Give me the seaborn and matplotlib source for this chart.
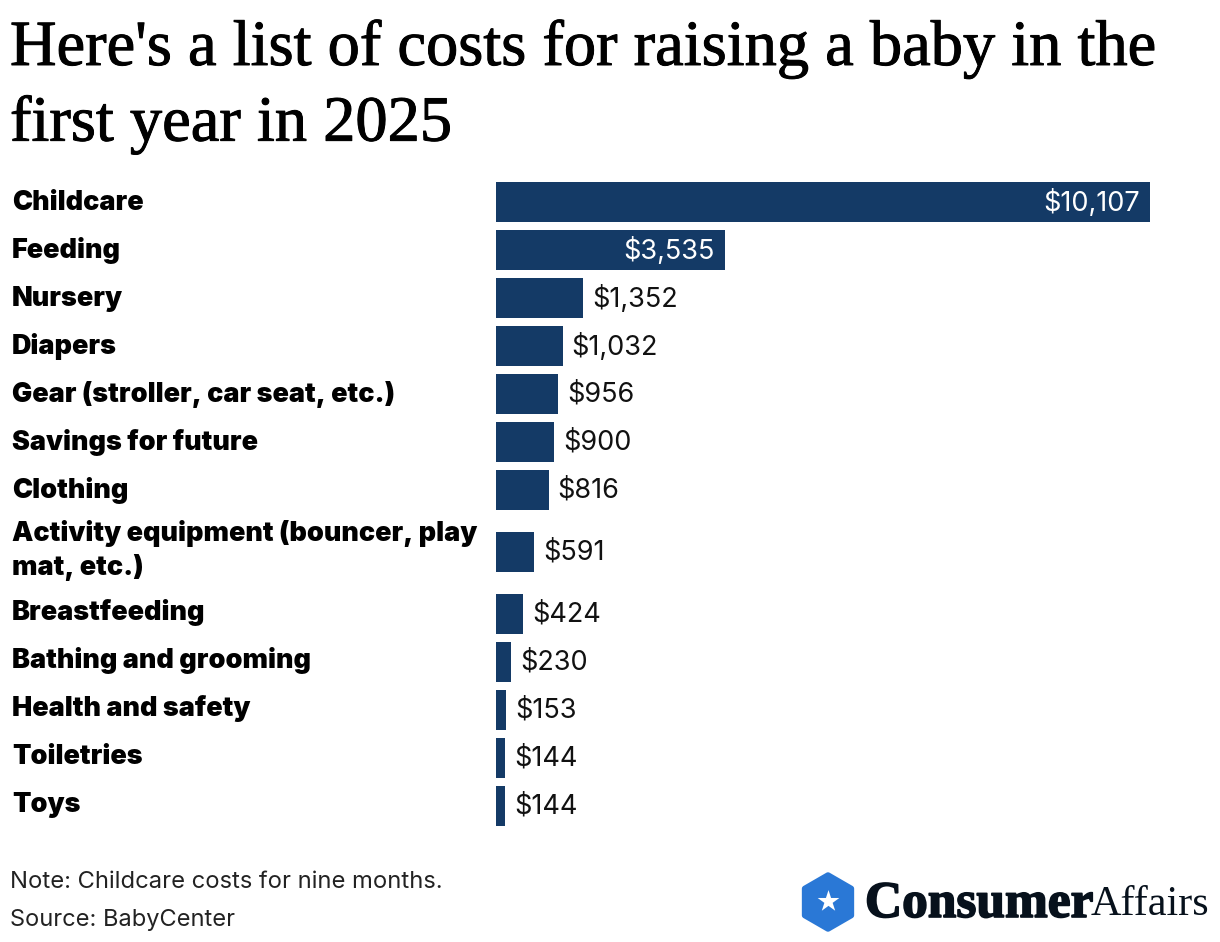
import matplotlib
matplotlib.use("Agg")
import matplotlib.pyplot as plt
import matplotlib.patches as mpatches
import matplotlib.patheffects as pe
import numpy as np
import pandas as pd
import seaborn as sns

# data
categories = ["Childcare", "Feeding", "Nursery", "Diapers",
    "Gear (stroller, car seat, etc.)", "Savings for future", "Clothing",
    "Activity equipment (bouncer, play\nmat, etc.)", "Breastfeeding",
    "Bathing and grooming", "Health and safety", "Toiletries", "Toys"]
costs = [10107, 3535, 1352, 1032, 956, 900, 816, 591, 424, 230, 153, 144, 144]
cost_labels = ["$10,107", "$3,535", "$1,352", "$1,032", "$956", "$900", "$816",
    "$591", "$424", "$230", "$153", "$144", "$144"]

title = "Here's a list of costs for raising a baby in the\nfirst year in 2025"
note = "Note: Childcare costs for nine months."
source = "Source: BabyCenter"

W, H = 1220, 942
BAR = "#143a66"

sns.set_theme(style="white")
plt.rcParams["font.family"] = ["Inter", "DejaVu Sans"]

# the two line label makes its row taller, so rows go on a pixel scale
row_h = np.array([48 + 28 * c.count("\n") for c in categories])
row_y = np.cumsum(row_h) - row_h / 2

df = pd.DataFrame({"row": row_y, "cost": costs})

fig = plt.figure(figsize=(W / 100, H / 100), dpi=100, facecolor="white")
ax = fig.add_axes([496 / W, 1 - 825.5 / H, 654 / W, 644 / H])

sns.barplot(data=df, x="cost", y="row", color=BAR, saturation=1, orient="y",
    native_scale=True, width=40 / 48, linewidth=0, ax=ax)
ax.set_xlim(0, costs[0])
ax.set_ylim(row_y[-1] + 20, row_y[0] - 20)
ax.axis("off")

for i, (w, yc) in enumerate(zip(costs, row_y)):
    if w > 3000:
        ax.annotate(cost_labels[i], (w, yc), xytext=(-10, -1),
            textcoords="offset pixels", ha="right", va="center",
            color="white", fontsize=19.5)
    else:
        ax.annotate(cost_labels[i], (w, yc), xytext=(9, -1),
            textcoords="offset pixels", ha="left", va="center",
            color="#111111", fontsize=19.5)
    # labels sit a bit above the bars, more so below the tall row
    shift = -1 if i <= 6 else 1
    ax.annotate(categories[i], (0, yc), xytext=(-484, shift),
        textcoords="offset pixels", ha="left", va="center", color="black",
        fontsize=19.4, fontweight="black", linespacing=1.33)

fig.text(10 / W, 1 - 20 / H, title, ha="left", va="top", fontsize=46.4,
    family=["Liberation Serif", "DejaVu Serif"], color="black", linespacing=1.37,
    path_effects=[pe.withStroke(linewidth=0.7, foreground="black")])
fig.text(10 / W, 1 - 882 / H, note, ha="left", va="center", fontsize=17.1, color="#222222")
fig.text(10 / W, 1 - 920 / H, source, ha="left", va="center", fontsize=17.0, color="#222222")

# logo
logo = fig.add_axes([0, 0, 1, 1], facecolor="none")
logo.set_xlim(0, W)
logo.set_ylim(H, 0)
logo.axis("off")
logo.add_patch(mpatches.RegularPolygon((828, 902), 6, radius=27, facecolor="#2a78d6",
    edgecolor="#2a78d6", linewidth=4, joinstyle="round"))
logo.scatter([828], [901], marker="*", s=270, color="white", linewidths=0, zorder=3)
logo.text(865, 905, "Consumer", fontsize=37, fontweight="bold", va="center",
    family=["Liberation Serif"], color="#07111c",
    path_effects=[pe.withStroke(linewidth=1.2, foreground="#07111c")])
logo.text(1091, 905, "Affairs", fontsize=30.4, va="center",
    family=["Liberation Serif"], color="#07111c")

fig.savefig("out.png", dpi=100)
